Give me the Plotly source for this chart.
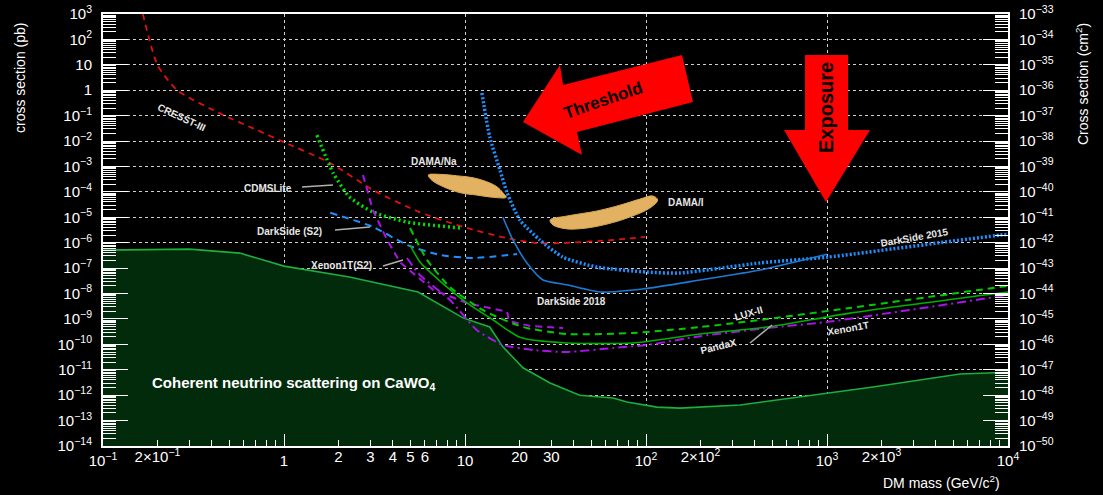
import plotly.graph_objects as go

# ---------------- data ----------------
FLOOR_X = [0.1, 0.3, 0.57, 1, 2.3, 4.4, 5.5, 9.75, 13.7, 16.2, 20.9, 29.5, 43, 65.7, 78.5, 115, 154, 331, 647, 1795, 5430, 10000]
FLOOR_Y = [5.1e-7, 5.6e-7, 3.9e-7, 1.2e-7, 4.5e-8, 1.7e-8, 1.15e-8, 1.1e-9, 4.8e-10, 8e-11, 1.2e-11, 3e-12, 1e-12, 7.7e-13, 5.4e-13, 3.4e-13, 3.1e-13, 4.1e-13, 7.7e-13, 2.1e-12, 6.8e-12, 8e-12]
FLOOR_BASE = 1e-15

CRESST_X = [0.166, 0.2, 0.257, 0.46, 0.71, 1.0, 1.8, 3.1, 5.6, 9.75, 17.1, 25, 34.8, 65.7, 98.7]
CRESST_Y = [1000, 9.8, 1.0, 0.107, 0.027, 0.009, 1.37e-3, 1.19e-4, 1.6e-5, 4.2e-6, 1.5e-6, 9.7e-7, 9.7e-7, 1.28e-6, 1.7e-6]

DS15_X = [12.4, 13.7, 15.6, 17.1, 20.1, 25.9, 34.8, 53.6, 101, 154, 427, 1000, 9030, 10000]
DS15_Y = [0.78, 0.0144, 7.2e-4, 9.1e-5, 7.8e-6, 1.28e-6, 2.7e-7, 1.1e-7, 7.0e-8, 6.4e-8, 1.6e-7, 2.7e-7, 2.0e-6, 2.1e-6]

DS18_X = [16.2, 18.4, 22, 27, 36.6, 55.7, 96, 199, 427, 1000]
DS18_Y = [1.0e-5, 1.28e-6, 1.6e-7, 3.4e-8, 2.2e-8, 1.15e-8, 1.5e-8, 3.4e-8, 8.4e-8, 3.5e-7]

DSS2_X = [1.8, 3.1, 4.8, 7.3, 11.1, 19.4]
DSS2_Y = [1.5e-5, 4.2e-6, 8.1e-7, 3.3e-7, 2.5e-7, 3.6e-7]

CDMS_X = [1.52, 1.87, 2.3, 3.1, 4.8, 9.4]
CDMS_Y = [0.017, 5.5e-4, 6.3e-5, 1.6e-5, 6.5e-6, 3.8e-6]

XES2_X = [2.73, 3.1, 3.71, 4.37, 6.66, 10.3, 17.1, 17.5, 22.9, 34.8]
XES2_Y = [4.6e-4, 1.9e-5, 1.3e-6, 1.7e-7, 1.4e-8, 4.2e-9, 1.9e-9, 8.3e-10, 5.3e-10, 4.4e-10]

XE_X = [4.78, 5.64, 8.26, 11.6, 16.2, 23.8, 36.6, 65.7, 101, 199, 467, 1000, 10000]
XE_Y = [2.5e-7, 5.3e-8, 5.6e-9, 3.7e-10, 9.4e-11, 6.0e-11, 5.0e-11, 7.2e-11, 9.4e-11, 2.1e-10, 4.4e-10, 7.6e-10, 8.7e-9]

PANDA_X = [4.97, 5.64, 7.28, 10.3, 14.3, 20.1, 36.6, 84.8, 199, 467, 1340, 10000]
PANDA_Y = [8.1e-7, 1.74e-7, 3.1e-8, 4.2e-9, 9.1e-10, 1.9e-10, 1.13e-10, 1.13e-10, 2.55e-10, 4.8e-10, 1.7e-9, 1.15e-8]

LUX_X = [4.97, 6.17, 8.26, 12.6, 20.9, 36.6, 84.8, 199, 467, 1340, 10000]
LUX_Y = [3.8e-6, 2.1e-7, 1.8e-8, 2.2e-9, 4.8e-10, 2.55e-10, 2.8e-10, 4.8e-10, 9.9e-10, 2.7e-9, 2.0e-8]

DAMA_NA_X = [6.27, 7.28, 9.0, 11.1, 13.2, 15.0, 16.3, 16.9, 14.3, 11.6, 9.38, 7.59, 6.55, 6.27]
DAMA_NA_Y = [4.6e-4, 4.9e-4, 4.3e-4, 3.6e-4, 2.5e-4, 1.6e-4, 8.8e-5, 6.1e-5, 6.1e-5, 7.5e-5, 9.3e-5, 1.6e-4, 2.9e-4, 4.6e-4]

DAMA_I_X = [29.5, 36.6, 53.6, 71.8, 92.6, 109, 116, 105, 81.6, 60.9, 47.2, 36.6, 30.6, 29.5]
DAMA_I_Y = [7.8e-6, 1.12e-5, 1.77e-5, 3.0e-5, 5.2e-5, 6.9e-5, 4.8e-5, 2.3e-5, 1.03e-5, 5.4e-6, 3.8e-6, 3.5e-6, 5.0e-6, 7.8e-6]

X_MAJOR = [0.1, 1, 10, 100, 1000, 10000]
X_MAJOR_TEXT = ["10<sup>−1</sup>", "1", "10", "10<sup>2</sup>", "10<sup>3</sup>", "10<sup>4</sup>"]
X_EXTRA = [0.2, 2, 3, 4, 5, 6, 20, 30, 200, 2000]
X_EXTRA_TEXT = ["2×10<sup>−1</sup>", "2", "3", "4", "5", "6", "20", "30", "2×10<sup>2</sup>", "2×10<sup>3</sup>"]
Y_EXP = list(range(-14, 4))
Y2_EXP = list(range(-50, -32))

# ---------------- helpers ----------------
def pow_label(e):
    if e == 0:
        return "1"
    if e == 1:
        return "10"
    return "10<sup>%s</sup>" % (str(e).replace("-", "−"))

Y_VALS = [10.0 ** e for e in Y_EXP]
Y_TEXT = [pow_label(e) for e in Y_EXP]
Y2_VALS = [10.0 ** e for e in Y2_EXP]
Y2_TEXT = ["10<sup>%s</sup>" % str(e).replace("-", "−") for e in Y2_EXP]

def minor_vals(lo, hi):
    return [m * 10.0 ** k for k in range(lo, hi) for m in range(2, 10)]

FONT = "Liberation Sans, Arial, Helvetica, sans-serif"
WHITE = "#ffffff"

fig = go.Figure()

# neutrino floor (filled)
fig.add_trace(go.Scatter(
    x=FLOOR_X + [FLOOR_X[-1], FLOOR_X[0]],
    y=FLOOR_Y + [FLOOR_BASE, FLOOR_BASE],
    fill="toself", fillcolor="#022b0c", mode="none", hoverinfo="skip"))
fig.add_trace(go.Scatter(x=FLOOR_X, y=FLOOR_Y, mode="lines",
                         line=dict(color="#1cae3e", width=1.6)))

# DAMA regions
fig.add_trace(go.Scatter(x=DAMA_NA_X, y=DAMA_NA_Y, fill="toself", mode="lines",
                         line=dict(color="#d9a850", width=1, shape="spline", smoothing=1.0),
                         fillcolor="#e2b162"))
fig.add_trace(go.Scatter(x=DAMA_I_X, y=DAMA_I_Y, fill="toself", mode="lines",
                         line=dict(color="#d9a850", width=1, shape="spline", smoothing=1.0),
                         fillcolor="#e2b162"))

# limit curves
fig.add_trace(go.Scatter(x=CRESST_X, y=CRESST_Y, mode="lines",
                         line=dict(color="#e01010", width=1.8, dash="6px,5px", shape="spline", smoothing=0.6)))
fig.add_trace(go.Scatter(x=DS15_X, y=DS15_Y, mode="lines",
                         line=dict(color="#1e90ff", width=3.5, dash="2px,2px", shape="spline", smoothing=0.6)))
fig.add_trace(go.Scatter(x=DS18_X, y=DS18_Y, mode="lines",
                         line=dict(color="#1c7ad2", width=1.6, shape="spline", smoothing=0.6)))
fig.add_trace(go.Scatter(x=DSS2_X, y=DSS2_Y, mode="lines",
                         line=dict(color="#1e90ff", width=2, dash="7px,5px", shape="spline", smoothing=0.6)))
fig.add_trace(go.Scatter(x=CDMS_X, y=CDMS_Y, mode="lines",
                         line=dict(color="#00dd00", width=3.5, dash="2px,3px", shape="spline", smoothing=0.6)))
fig.add_trace(go.Scatter(x=XES2_X, y=XES2_Y, mode="lines",
                         line=dict(color="#a814e8", width=2, dash="7px,5px")))
fig.add_trace(go.Scatter(x=XE_X, y=XE_Y, mode="lines",
                         line=dict(color="#a814e8", width=2, dash="9px,4px,2px,4px", shape="spline", smoothing=0.6)))
fig.add_trace(go.Scatter(x=LUX_X, y=LUX_Y, mode="lines",
                         line=dict(color="#00cc00", width=2, dash="7px,5px", shape="spline", smoothing=0.6)))
fig.add_trace(go.Scatter(x=PANDA_X, y=PANDA_Y, mode="lines",
                         line=dict(color="#00b000", width=1.6, shape="spline", smoothing=0.6)))

# dummy traces to activate the secondary axes
fig.add_trace(go.Scatter(x=[X_MAJOR[0], X_MAJOR[-1]], y=[Y2_VALS[0], Y2_VALS[-1]],
                         yaxis="y2", mode="lines", line=dict(width=0), hoverinfo="skip", opacity=0))
fig.add_trace(go.Scatter(x=[X_MAJOR[0], X_MAJOR[-1]], y=[Y_VALS[0], Y_VALS[-1]],
                         xaxis="x2", mode="lines", line=dict(width=0), hoverinfo="skip", opacity=0))

tickfont = dict(family=FONT, size=15, color=WHITE)

fig.update_layout(
    width=1103, height=495,
    paper_bgcolor="#000000", plot_bgcolor="#000000",
    margin=dict(l=103, r=95, t=14, b=49, autoexpand=False),
    showlegend=False,
    xaxis=dict(type="log", range=[-1, 4], autorange=False, automargin=False,
               tickmode="array", tickvals=X_MAJOR, ticktext=X_MAJOR_TEXT,
               ticks="inside", ticklen=12, tickcolor=WHITE, tickwidth=1,
               showgrid=True, gridcolor="#d0d0d0", griddash="dot", gridwidth=1,
               showline=True, linecolor=WHITE, linewidth=2, mirror=True,
               zeroline=False, tickfont=tickfont, ticklabeloverflow="allow",
               minor=dict(tickmode="array", tickvals=minor_vals(-1, 4), ticks="inside",
                          ticklen=6, tickcolor=WHITE, tickwidth=1, showgrid=False)),
    xaxis2=dict(type="log", range=[-1, 4], autorange=False, automargin=False,
                overlaying="x", side="bottom", ticklabeloverflow="allow",
                anchor="y", tickmode="array", tickvals=X_EXTRA, ticktext=X_EXTRA_TEXT,
                ticks="", showgrid=False, showline=False, zeroline=False, tickfont=tickfont),
    yaxis=dict(type="log", range=[-14, 3], autorange=False, automargin=False,
               tickmode="array", tickvals=Y_VALS, ticktext=Y_TEXT,
               ticks="inside", ticklen=25, tickcolor=WHITE, tickwidth=1,
               showgrid=True, gridcolor="#d0d0d0", griddash="dot", gridwidth=1,
               showline=True, linecolor=WHITE, linewidth=2, ticklabeloverflow="allow",
               zeroline=False, tickfont=tickfont, ticklabelstandoff=6,
               minor=dict(tickmode="array", tickvals=minor_vals(-14, 3), ticks="inside",
                          ticklen=13, tickcolor=WHITE, tickwidth=1, showgrid=False)),
    yaxis2=dict(type="log", range=[-50, -33], autorange=False, automargin=False,
                overlaying="y", side="right", ticklabeloverflow="allow",
                anchor="x", tickmode="array", tickvals=Y2_VALS, ticktext=Y2_TEXT,
                ticks="inside", ticklen=25, tickcolor=WHITE, tickwidth=1,
                showgrid=False, showline=True, linecolor=WHITE, linewidth=2,
                zeroline=False, tickfont=tickfont, ticklabelstandoff=6,
                minor=dict(tickmode="array", tickvals=minor_vals(-50, -33), ticks="inside",
                           ticklen=13, tickcolor=WHITE, tickwidth=1, showgrid=False)),
)

# ---------------- arrows (paper coordinates) ----------------
def P(px, py):
    return (px - 103) / 905.0, (446 - py) / 432.0

def path(points):
    s = ""
    for i, (px, py) in enumerate(points):
        x, y = P(px, py)
        s += ("M" if i == 0 else "L") + "%.4f,%.4f " % (x, y)
    return s + "Z"

threshold_pts = [(523, 122), (560, 65), (563, 85), (682, 55), (693, 102), (577, 132), (582, 155)]
exposure_pts = [(805, 55), (848, 55), (848, 130), (870, 130), (826, 202), (784, 130), (805, 130)]
fig.add_shape(type="path", path=path(threshold_pts), xref="paper", yref="paper",
              fillcolor="#ff0000", line=dict(width=0))
fig.add_shape(type="path", path=path(exposure_pts), xref="paper", yref="paper",
              fillcolor="#ff0000", line=dict(width=0))

# pointer lines
for (a, b) in [((302, 187), (333, 185)), ((335, 230), (370, 227)),
               ((383, 266), (403, 260)), ((750, 343), (772, 325))]:
    x0, y0 = P(*a)
    x1, y1 = P(*b)
    fig.add_shape(type="line", xref="paper", yref="paper", x0=x0, y0=y0, x1=x1, y1=y1,
                  line=dict(color="#b0b0b0", width=1.5))

def label(text, px, py, angle=0, size=10, color="#e6e6e6", bold=True, xanchor="center"):
    x, y = P(px, py)
    fig.add_annotation(text=("<b>%s</b>" % text) if bold else text, x=x, y=y,
                       xref="paper", yref="paper", showarrow=False, textangle=angle,
                       xanchor=xanchor, yanchor="middle",
                       font=dict(family=FONT, size=size, color=color))

label("CRESST-III", 182, 117, 25)
label("CDMSLite", 268, 188)
label("DarkSide (S2)", 289, 231)
label("Xenon1T(S2)", 341, 265)
label("DAMA/Na", 434, 161)
label("DAMA/I", 686, 202)
label("DarkSide 2018", 571, 301)
label("DarkSide 2015", 914, 237, -10)
label("LUX-II", 748, 313, -16)
label("PandaX", 718, 346, -14)
label("Xenon1T", 848, 328, -10)
label("Coherent neutrino scattering on CaWO<sub>4</sub>", 150, 383, 0, 15, "#ffffff", True, "left")
label("Threshold", 603, 100, -19, 17, "#000000")
label("Exposure", 826, 108, -90, 20, "#000000")

# axis titles
label("cross section (pb)", 20, 78, -90, 14, WHITE, False)
label("Cross section (cm<sup>2</sup>)", 1082, 84, -90, 14, WHITE, False)
label("DM mass (GeV/c<sup>2</sup>)", 1002, 482, 0, 14, WHITE, False, "right")

# the default page body has an 8px margin; remove it so the figure fills the window
fig.write_html("out.html", config={"displayModeBar": False},
               post_script="document.body.style.margin='0px';")
